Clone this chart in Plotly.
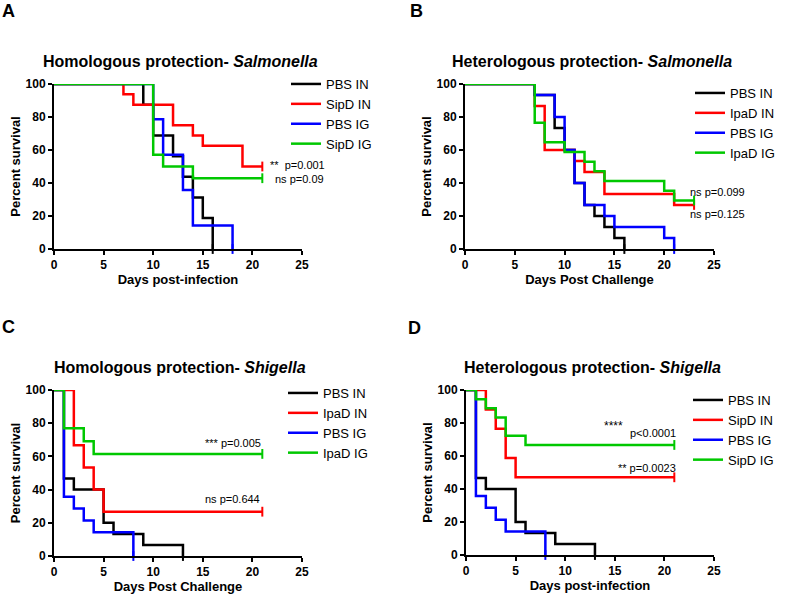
import plotly.graph_objects as go

# ---------------- data (days, percent survival) ----------------
# Panel A: Homologous protection - Salmonella
A_PBS_IN_t = [0, 9, 10, 12, 13, 14, 15, 16]
A_PBS_IN_s = [100, 87.5, 68.75, 56.25, 43.75, 31.25, 18.75, 0]
A_SipD_IN_t = [0, 7, 8, 12, 14, 15, 19, 21]
A_SipD_IN_s = [100, 93.75, 87.5, 75, 68.75, 62.5, 50, 50]
A_PBS_IG_t = [0, 10, 11, 13, 14, 18]
A_PBS_IG_s = [100, 78.6, 57.1, 35.7, 14.3, 0]
A_SipD_IG_t = [0, 10, 11, 14, 21]
A_SipD_IG_s = [100, 57.1, 50, 42.9, 42.9]

# Panel B: Heterologous protection - Salmonella
B_PBS_IN_t = [0, 7, 9, 10, 11, 12, 13, 14, 15, 16]
B_PBS_IN_s = [100, 93.3, 73.3, 60, 40, 26.7, 20, 13.3, 6.7, 0]
B_IpaD_IN_t = [0, 7, 8, 11, 12, 14, 21, 23]
B_IpaD_IN_s = [100, 86.7, 60, 53.3, 46.7, 33.3, 26.7, 26.7]
B_PBS_IG_t = [0, 7, 9, 10, 11, 12, 14, 15, 20, 21]
B_PBS_IG_s = [100, 93.3, 80, 60, 40, 26.7, 20, 13.3, 6.7, 0]
B_IpaD_IG_t = [0, 7, 8, 10, 12, 13, 14, 20, 21, 23]
B_IpaD_IG_s = [100, 76.5, 64.7, 58.8, 52.9, 47.1, 41.2, 35.3, 29.4, 29.4]

# Panel C: Homologous protection - Shigella
C_PBS_IN_t = [0, 1, 2, 5, 6, 9, 13]
C_PBS_IN_s = [100, 46.7, 40, 20, 13.3, 6.7, 0]
C_IpaD_IN_t = [0, 2, 3, 4, 5, 21]
C_IpaD_IN_s = [100, 66.7, 53.3, 40, 26.7, 26.7]
C_PBS_IG_t = [0, 1, 2, 3, 4, 8]
C_PBS_IG_s = [100, 35.7, 28.6, 21.4, 14.3, 0]
C_IpaD_IG_t = [0, 1, 3, 4, 21]
C_IpaD_IG_s = [100, 76.9, 69.2, 61.5, 61.5]

# Panel D: Heterologous protection - Shigella
D_PBS_IN_t = [0, 1, 2, 5, 6, 9, 13]
D_PBS_IN_s = [100, 46.7, 40, 20, 13.3, 6.7, 0]
D_SipD_IN_t = [0, 2, 3, 4, 5, 21]
D_SipD_IN_s = [100, 88.2, 76.5, 58.8, 47.1, 47.1]
D_PBS_IG_t = [0, 1, 2, 3, 4, 8]
D_PBS_IG_s = [100, 35.7, 28.6, 21.4, 14.3, 0]
D_SipD_IG_t = [0, 1, 2, 3, 4, 6, 21]
D_SipD_IG_s = [100, 94.4, 88.9, 83.3, 72.2, 66.7, 66.7]

x_ticks = [0, 5, 10, 15, 20, 25]
y_ticks = [0, 20, 40, 60, 80, 100]

COLORS = ["#000000", "#ff0000", "#0000ff", "#00c800"]

W, H = 785, 594
panels = [
    dict(letter="A", title="Homologous protection- <i>Salmonella</i>", xlab="Days post-infection",
         series=[("PBS IN", A_PBS_IN_t, A_PBS_IN_s), ("SipD IN", A_SipD_IN_t, A_SipD_IN_s),
                 ("PBS IG", A_PBS_IG_t, A_PBS_IG_s), ("SipD IG", A_SipD_IG_t, A_SipD_IG_s)],
         xd=[54/W, 302/W], yd=[1-249/H, 1-84/H], legend="legend", lx=286/W, ly=1-69/H,
         letter_xy=(0, 11)),
    dict(letter="B", title="Heterologous protection- <i>Salmonella</i>", xlab="Days Post Challenge",
         series=[("PBS IN", B_PBS_IN_t, B_PBS_IN_s), ("IpaD IN", B_IpaD_IN_t, B_IpaD_IN_s),
                 ("PBS IG", B_PBS_IG_t, B_PBS_IG_s), ("IpaD IG", B_IpaD_IG_t, B_IpaD_IG_s)],
         xd=[465/W, 714/W], yd=[1-249/H, 1-84/H], legend="legend2", lx=690/W, ly=1-78/H,
         letter_xy=(408, 11)),
    dict(letter="C", title="Homologous protection- <i>Shigella</i>", xlab="Days Post Challenge",
         series=[("PBS IN", C_PBS_IN_t, C_PBS_IN_s), ("IpaD IN", C_IpaD_IN_t, C_IpaD_IN_s),
                 ("PBS IG", C_PBS_IG_t, C_PBS_IG_s), ("IpaD IG", C_IpaD_IG_t, C_IpaD_IG_s)],
         xd=[54/W, 302/W], yd=[1-556/H, 1-390/H], legend="legend3", lx=283/W, ly=1-378/H,
         letter_xy=(0, 327)),
    dict(letter="D", title="Heterologous protection- <i>Shigella</i>", xlab="Days post-infection",
         series=[("PBS IN", D_PBS_IN_t, D_PBS_IN_s), ("SipD IN", D_SipD_IN_t, D_SipD_IN_s),
                 ("PBS IG", D_PBS_IG_t, D_PBS_IG_s), ("SipD IG", D_SipD_IG_t, D_SipD_IG_s)],
         xd=[466/W, 714/W], yd=[1-555/H, 1-390/H], legend="legend4", lx=688/W, ly=1-385/H,
         letter_xy=(406, 328)),
]

# p-value annotations: (panel index, text, x, y, xanchor, size)
pvals = [
    (0, "**  p=0.001", 21.6, 51, "left", 11),
    (0, "ns p=0.09", 22.1, 42.5, "left", 11),
    (1, "ns p=0.099", 22.4, 34.5, "left", 11),
    (1, "ns p=0.125", 22.4, 21.5, "left", 11),
    (2, "*** p=0.005", 21.1, 68, "right", 11),
    (2, "ns p=0.644", 21.0, 34.5, "right", 11),
    (3, "****", 16.0, 78, "right", 12),
    (3, "p<0.0001", 21.4, 74, "right", 11),
    (3, "** p=0.0023", 21.4, 52.5, "right", 11),
]

fig = go.Figure()
layout = dict(
    width=W, height=H, margin=dict(l=0, r=0, t=0, b=0, autoexpand=False),
    paper_bgcolor="white", plot_bgcolor="white", showlegend=True,
    font=dict(family="Liberation Sans, Arial, sans-serif", color="#000000"),
    annotations=[],
)

for i, p in enumerate(panels):
    n = "" if i == 0 else str(i + 1)
    xa, ya = "x" + n, "y" + n
    for (name, t, s), c in zip(p["series"], COLORS):
        fig.add_trace(go.Scatter(
            x=t, y=s, mode="lines", name=name, line=dict(color=c, width=2.5, shape="hv"),
            xaxis=xa, yaxis=ya, legend=p["legend"], cliponaxis=False))
        fig.add_trace(go.Scatter(
            x=[t[-1]], y=[s[-1]], mode="markers", showlegend=False,
            marker=dict(symbol="line-ns", size=7, line=dict(color=c, width=2)),
            xaxis=xa, yaxis=ya, cliponaxis=False))
    axis_common = dict(showgrid=False, zeroline=False, showline=True, linecolor="black", linewidth=2,
                       ticks="outside", ticklen=4, tickwidth=1.5, tickcolor="black", automargin=False,
                       tickfont=dict(size=12, family="Liberation Sans, Arial", weight="bold"))
    layout["xaxis" + n] = dict(axis_common, domain=p["xd"], anchor=ya, range=[0, 25],
                                tickvals=x_ticks, ticktext=[str(v) for v in x_ticks],
                                title=dict(text="<b>" + p["xlab"] + "</b>", font=dict(size=13), standoff=3))
    layout["yaxis" + n] = dict(axis_common, domain=p["yd"], anchor=xa, range=[0, 100],
                                tickvals=y_ticks, ticktext=[str(v) for v in y_ticks],
                                title=dict(text="<b>Percent survival</b>", font=dict(size=13), standoff=2))
    layout[p["legend"]] = dict(x=p["lx"], y=p["ly"], xanchor="left", yanchor="top",
                               font=dict(size=13, family="Liberation Sans, Arial"),
                               bgcolor="rgba(0,0,0,0)", itemwidth=30, tracegroupgap=0)
    # panel title
    cx = (p["xd"][0] + p["xd"][1]) / 2 + 0.003
    layout["annotations"].append(dict(
        text="<b>" + p["title"] + "</b>", xref="paper", yref="paper", x=cx,
        y=p["yd"][1] + 23/H, xanchor="center", yanchor="middle", showarrow=False,
        font=dict(size=16)))
    # panel letter
    lxp, lyp = p["letter_xy"]
    layout["annotations"].append(dict(
        text="<b>" + p["letter"] + "</b>", xref="paper", yref="paper", x=lxp/W, y=1 - lyp/H,
        xanchor="left", yanchor="middle", showarrow=False, font=dict(size=18)))

for (pi, txt, x, y, xanc, fs) in pvals:
    n = "" if pi == 0 else str(pi + 1)
    layout["annotations"].append(dict(
        text=txt, xref="x" + n, yref="y" + n, x=x, y=y, xanchor=xanc, yanchor="middle",
        showarrow=False, font=dict(size=fs)))

fig.update_layout(**layout)
fig.write_html("out.html", config={"displayModeBar": False},
               post_script="document.body.style.margin='0';")
